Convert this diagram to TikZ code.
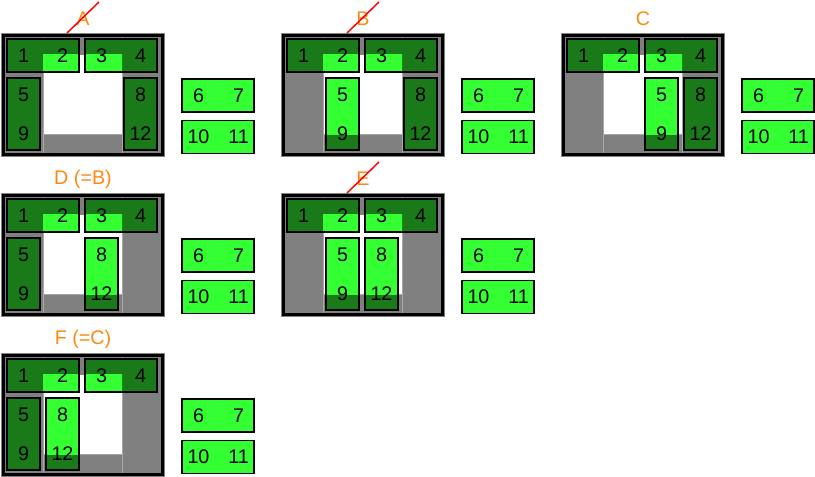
\documentclass[tikz,border=0pt]{standalone}
\usepackage{fontspec}
\setmainfont{Liberation Sans}
\definecolor{boardgray}{RGB}{128,128,128}
\definecolor{seamgray}{RGB}{168,168,168}
\definecolor{darkgr}{RGB}{26,122,26}
\definecolor{brightgr}{RGB}{51,255,51}
\definecolor{labelor}{RGB}{255,136,17}
\tikzset{
  boardfill/.style={fill=boardgray},
  rim/.style={draw=black, line width=2.25pt},
  seam/.style={draw=seamgray, line width=0.75pt},
  tilebox/.style={draw=black, fill=darkgr, line width=0.9pt, inner sep=0pt, outer sep=0pt},
  htilebox/.style={tilebox, minimum width=54pt, minimum height=24.75pt},
  vtilebox/.style={tilebox, minimum width=24.75pt, minimum height=54pt},
  tileedge/.style={draw=black, line width=0.9pt},
  num/.style={font=\fontsize{14.8pt}{17pt}\selectfont, inner sep=0pt},
  caption/.style={font=\fontsize{14.8pt}{17pt}\selectfont, text=labelor, inner sep=0pt},
  strike/.style={draw=red, line width=1.1pt}
}
% horizontal tile: name, col, row, first, second
\newcommand{\htile}[5]{%
  \node[htilebox] (#1) at ({42+39*#2},{22.5+39*#3}) {};
  \begin{scope}
    \clip (42,22) rectangle (121,102);
    \fill[brightgr] (#1.north west) rectangle (#1.south east);
  \end{scope}
  \draw[tileedge] (#1.north west) rectangle (#1.south east);
  \node[num] (#1-a) at ({22.5+39*#2},{22.5+39*#3}) {#4};
  \node[num] (#1-b) at ({61.5+39*#2},{22.5+39*#3}) {#5};}
% vertical tile: name, col, row, first, second
\newcommand{\vtile}[5]{%
  \node[vtilebox] (#1) at ({22.5+39*#2},{42+39*#3}) {};
  \begin{scope}
    \clip (42,22) rectangle (121,102);
    \fill[brightgr] (#1.north west) rectangle (#1.south east);
  \end{scope}
  \draw[tileedge] (#1.north west) rectangle (#1.south east);
  \node[num] (#1-a) at ({22.5+39*#2},{22.5+39*#3}) {#4};
  \node[num] (#1-b) at ({22.5+39*#2},{61.5+39*#3}) {#5};}
% board: name, x, y, caption, col of 5/9, col of 8/12
\newcommand{\board}[6]{%
  \begin{scope}[shift={(#2,#3)}]
    \fill[boardfill] (0,0) rectangle (164,124);
    \draw[rim] (2.5,2.5) rectangle (161.5,121.5);
    \fill[white] (42,22) rectangle (121,102);
    \draw[seam] (42,4) -- (42,120) (121,4) -- (121,120) (42,102) -- (121,102);
    \node[caption] (#1-lab) at (82,-14) {#4};
    \htile{#1-12}{0}{0}{1}{2}
    \htile{#1-34}{2}{0}{3}{4}
    \vtile{#1-59}{#5}{1}{5}{9}
    \vtile{#1-812}{#6}{1}{8}{12}
    % spare tiles
    \node[htilebox, fill=brightgr] (#1-67) at (217,62.5) {};
    \node[num] at (197.5,62.5) {6};
    \node[num] at (237.5,62.5) {7};
    \node[htilebox, fill=brightgr] (#1-1011) at (217,104) {};
    \node[num] at (197.5,104) {10};
    \node[num] at (237.5,104) {11};
  \end{scope}}
\newcommand{\cross}[1]{%
  \draw[strike] ([shift={(-16,14)}]#1-lab.center) -- ([shift={(16,-17)}]#1-lab.center);}

\begin{document}
\begin{tikzpicture}[x=0.75pt, y=-0.75pt]
  \useasboundingbox (0,0) rectangle (815,477);
  \board{A}{1}{33}{A}{0}{3}
  \cross{A}
  \board{B}{281}{33}{B}{1}{3}
  \cross{B}
  \board{C}{561}{33}{C}{2}{3}
  \board{D}{1}{193}{D (=B)}{0}{2}
  \board{E}{281}{193}{E}{1}{2}
  \cross{E}
  \board{F}{1}{353}{F (=C)}{0}{1}
\end{tikzpicture}
\end{document}
